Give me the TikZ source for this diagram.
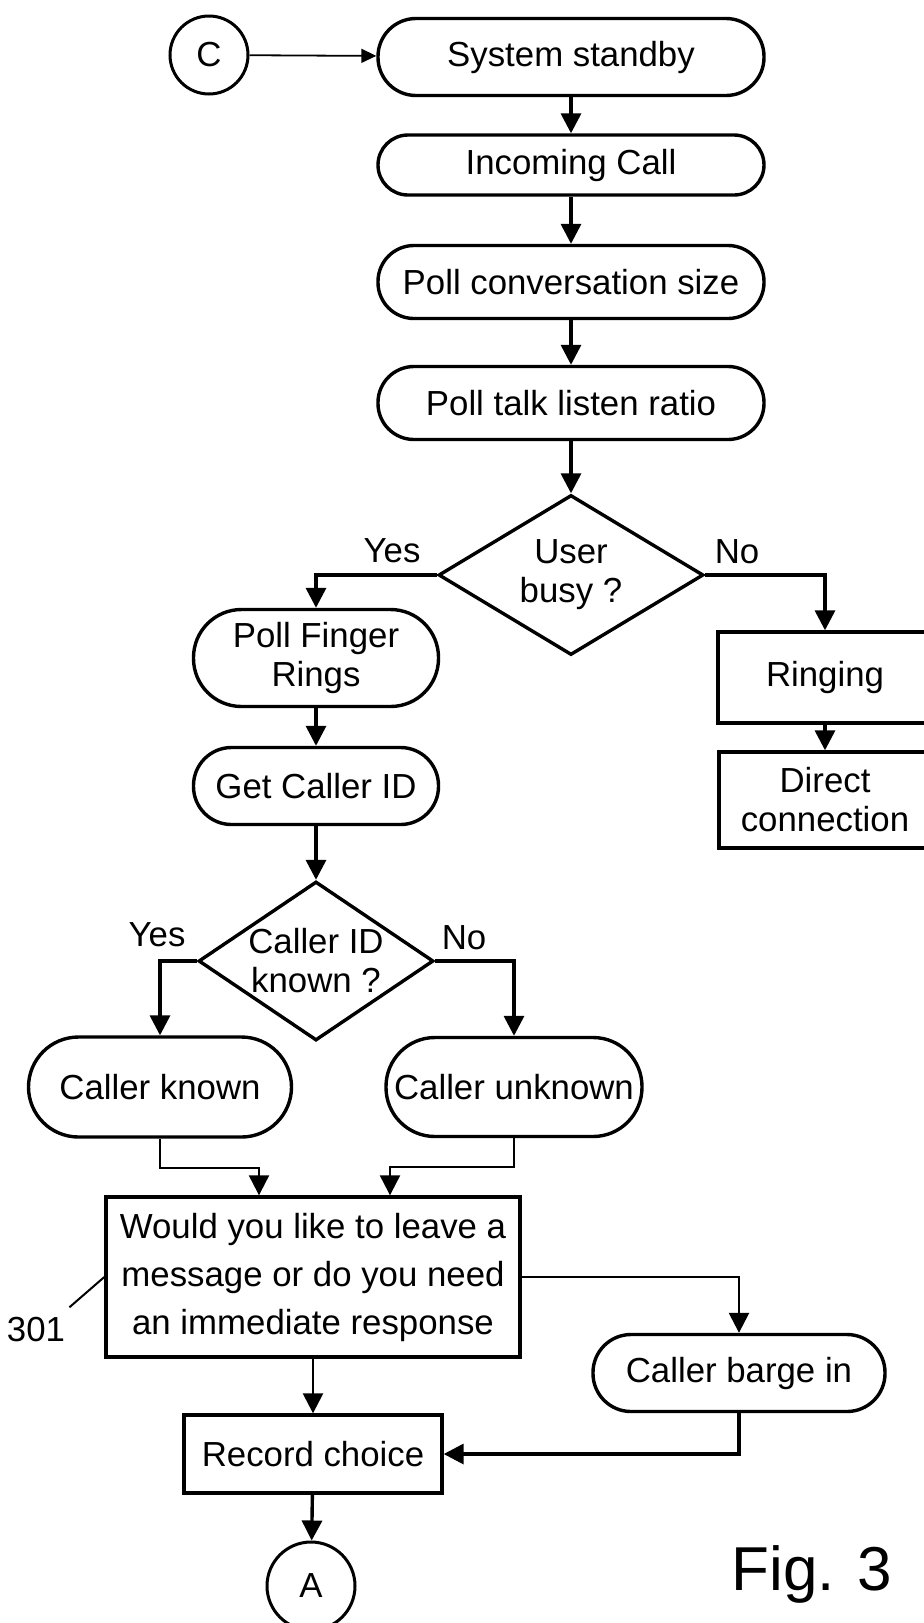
\documentclass[tikz,border=0pt]{standalone}
\usepackage{fontspec}
\setmainfont{Liberation Sans}
\usetikzlibrary{shapes.geometric,arrows.meta}

\begin{document}
\begin{tikzpicture}[x=0.5pt,y=-0.5pt,
    font=\fontsize{17.4pt}{19.5pt}\selectfont,
    box/.style={draw,line width=1.7pt,align=center,inner sep=2pt},
    pill/.style={box,rounded corners=#1},
    decision/.style={box,diamond,aspect=1.5,inner sep=0pt},
    conn/.style={draw,circle,line width=1.5pt,inner sep=0pt},
    arr/.style={line width=1.7pt,-{Triangle[length=10pt,width=10pt]}},
    thinarr/.style={line width=0.9pt,-{Triangle[length=7.5pt,width=7pt]}},
    lbl/.style={inner sep=0pt}]
  \clip (0,0) rectangle (924,1623);
  % main column
  \node[conn,minimum size=39pt] (C) at (209,55) {C};
  \node[pill=19pt,minimum width=193pt,minimum height=38.5pt] (standby) at (571,57) {System standby};
  \node[pill=15pt,minimum width=193pt,minimum height=30pt] (incoming) at (571,165) {Incoming Call};
  \node[pill=18pt,minimum width=193pt,minimum height=36.5pt] (pollsize) at (571,282) {Poll conversation size};
  \node[pill=18pt,minimum width=193pt,minimum height=36.5pt] (pollratio) at (571,403) {Poll talk listen ratio};
  \node[decision,minimum width=132.5pt,minimum height=80pt] (busy) at (571,575) {User\\busy ?};
  \node[lbl] (yes1) at (392,551) {Yes};
  \node[lbl] (no1) at (737,552) {No};
  % user busy branch
  \node[pill=24pt,minimum width=122.5pt,minimum height=48.5pt] (fingers) at (316,658) {Poll Finger\\Rings};
  \node[pill=19pt,minimum width=122.5pt,minimum height=38.5pt] (callerid) at (316,786) {Get Caller ID};
  \node[decision,minimum width=117.5pt,minimum height=79.5pt] (known) at (316,961) {Caller ID\\known ?};
  \node[lbl] (yes2) at (157,935) {Yes};
  \node[lbl] (no2) at (464,938) {No};
  \node[pill=25pt,minimum width=131.5pt,minimum height=50pt] (knownbox) at (160,1087) {Caller known};
  \node[pill=24.5pt,minimum width=128pt,minimum height=49.5pt] (unknownbox) at (514,1087) {Caller unknown};
  \node[box,minimum width=207pt,minimum height=80pt,font=\fontsize{17.4pt}{24pt}\selectfont] (message) at (313,1277)
    {Would you like to leave a\\message or do you need\\an immediate response};
  \node[lbl] (lbl301) at (36,1330) {301};
  \node[pill=19pt,minimum width=146pt,minimum height=38.5pt] (barge) at (739,1373) {Caller barge in};
  \node[box,minimum width=129pt,minimum height=39pt] (record) at (313,1454) {Record choice};
  \node[conn,minimum size=44pt] (A) at (311,1586) {A};
  % not busy branch
  \node[box,minimum width=107pt,minimum height=45.5pt] (ring) at (825,677.5) {Ringing};
  \node[box,minimum width=106pt,minimum height=48pt] (direct) at (825,800) {Direct\\connection};
  \node[lbl,anchor=base west,font=\fontsize{31pt}{36pt}\selectfont] (fig) at (731,1590) {Fig. 3};

  \draw[thinarr] (C) -- (standby);
  \draw[arr] (standby) -- (incoming);
  \draw[arr] (incoming) -- (pollsize);
  \draw[arr] (pollsize) -- (pollratio);
  \draw[arr] (pollratio) -- (busy);
  \draw[arr] (busy.west) -| (fingers.north);
  \draw[arr] (busy.east) -| (ring.north);
  \draw[arr] (ring) -- (direct);
  \draw[arr] (fingers) -- (callerid);
  \draw[arr] (callerid) -- (known);
  \draw[arr] (known.west) -| (knownbox.north);
  \draw[arr] (known.east) -| (unknownbox.north);
  \draw[arr,line width=1.1pt] (knownbox.south) -- ++(0,29) -| ([xshift=-27pt]message.north);
  \draw[arr,line width=1.1pt] (unknownbox.south) -- ++(0,29) -| ([xshift=38.5pt]message.north);
  \draw[line width=1pt] ([shift={(2pt,5pt)}]lbl301.north east) -- (message.west);
  \draw[arr,line width=1.3pt] (message.east) -| (barge.north);
  \draw[arr,line width=1.3pt] (message) -- (record);
  \draw[arr] (barge.south) |- (record.east);
  \draw[arr] (record) -- (A);
\end{tikzpicture}
\end{document}
